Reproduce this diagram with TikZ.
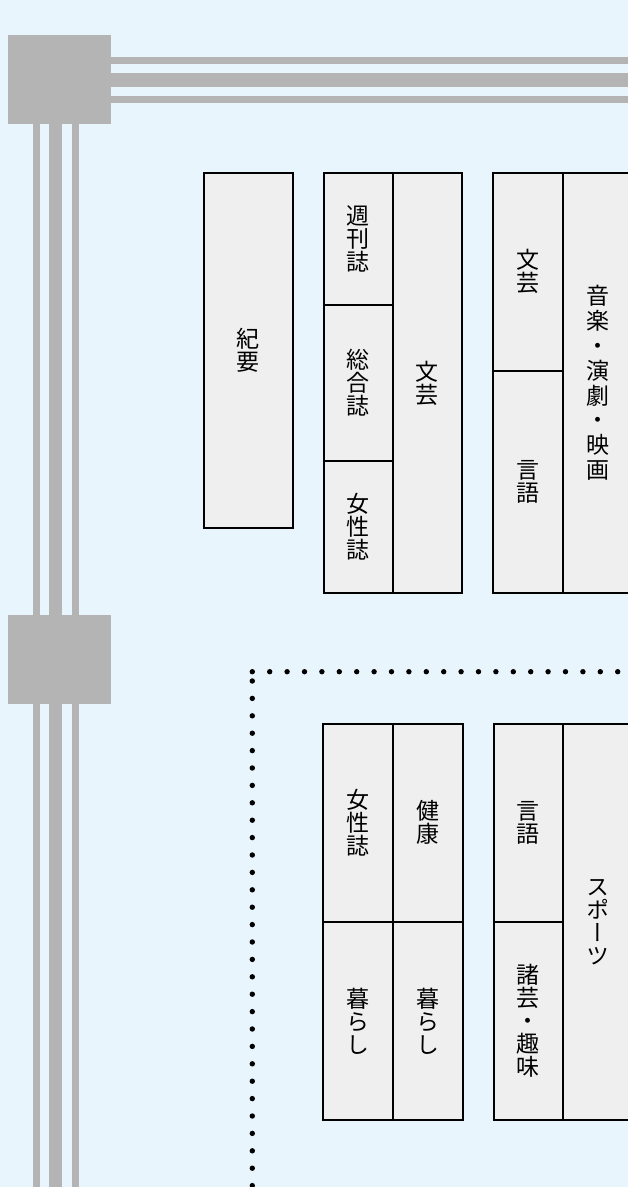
\documentclass[tikz,border=0pt]{standalone}
\usepackage{fontspec}
\newfontfamily\jpv{Noto Sans CJK JP}[RawFeature=+vert]
\definecolor{bgblue}{HTML}{E8F5FD}
\definecolor{cellfill}{HTML}{EFEFEF}
\definecolor{bargray}{HTML}{B4B4B4}
\begin{document}
\begin{tikzpicture}[x=1pt,y=-1pt,
  cell/.style={draw=black, line width=1.8pt, fill=cellfill, inner sep=0pt,
    anchor=north west, align=center, font=\jpv\fontsize{23}{23}\selectfont},
  widecell/.style={cell, font=\jpv\fontsize{23}{24.9}\selectfont},
  hub/.style={fill=bargray, draw=none, inner sep=0pt, minimum width=103pt, minimum height=89pt},
  bar/.style={fill=bargray},
  dotline/.style={line width=5.4pt, line cap=round, dash pattern=on 0pt off 17.4pt}]
\clip (0,0) rectangle (628,1187);
\fill[bgblue] (0,0) rectangle (628,1187);

% hubs
\node[hub] (hub1) at (59.5,79.5) {};
\node[hub] (hub2) at (59.5,659.5) {};

% horizontal bars
\fill[bar] (hub1.east |- 0,57.3) rectangle (640,64);
\fill[bar] (hub1.east |- 0,73.3) rectangle (640,86.7);
\fill[bar] (hub1.east |- 0,96) rectangle (640,102.7);

% vertical bars between hubs and below
\foreach \xa/\xb in {33/40, 49.3/62.3, 71.7/78.7}{
  \fill[bar] (\xa,124) rectangle (\xb,615);
  \fill[bar] (\xa,704) rectangle (\xb,1195);
}

% dotted frame
\coordinate (dc) at (252.3,671.7);
\coordinate (dr) at (645,671.7);
\coordinate (dv) at (252.3,681);
\coordinate (db) at (252.3,1200);
\draw[dotline] (dc) -- (dr);
\draw[dotline] (dv) -- (db);

% group A
\node[cell, minimum width=88.4pt, minimum height=355pt] (kiyo) at (203.3,171.7) {紀\\要};

% group B
\node[cell, minimum width=69.6pt, minimum height=132.3pt] (b1) at (322.7,171.7) {週\\刊\\誌};
\node[cell, minimum width=69.6pt, minimum height=156pt] (b2) at (322.7,304) {総\\合\\誌};
\node[cell, minimum width=69.6pt, minimum height=132.3pt] (b3) at (322.7,460) {女\\性\\誌};
\node[cell, minimum width=68.4pt, minimum height=420.6pt] (b4) at (392.3,171.7) {文\\芸};

% group C
\node[cell, minimum width=69.7pt, minimum height=198.3pt] (c1) at (492.3,171.7) {文\\芸};
\node[cell, minimum width=69.7pt, minimum height=222.3pt] (c2) at (492.3,370) {言\\語};
\node[widecell, minimum width=70pt, minimum height=420.6pt] (c3) at (562,171.7) {音\\楽\\・\\演\\劇\\・\\映\\画};

% group D
\node[cell, minimum width=70pt, minimum height=198.3pt] (d1) at (322.3,722.7) {女\\性\\誌};
\node[cell, minimum width=69.4pt, minimum height=198.3pt] (d2) at (392.3,722.7) {健\\康};
\node[cell, minimum width=70pt, minimum height=198.3pt] (d3) at (322.3,921) {暮\\ら\\し};
\node[cell, minimum width=69.4pt, minimum height=198.3pt] (d4) at (392.3,921) {暮\\ら\\し};

% group E
\node[cell, minimum width=69.6pt, minimum height=198.3pt] (e1) at (492.7,722.7) {言\\語};
\node[cell, minimum width=69.6pt, minimum height=198.3pt] (e2) at (492.7,921) {諸\\芸\\・\\趣\\味};
\node[cell, minimum width=70pt, minimum height=396.6pt] (e3) at (562.3,722.7) {ス\\ポ\\ー\\ツ};
\end{tikzpicture}
\end{document}
